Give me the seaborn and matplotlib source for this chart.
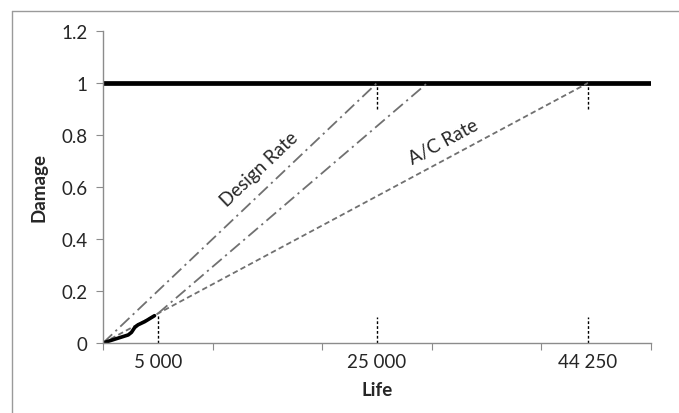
import numpy as np
import pandas as pd
import matplotlib
matplotlib.use("Agg")
import matplotlib.pyplot as plt
import seaborn as sns
from matplotlib.lines import Line2D

# values
life_labels = ["5 000", "25 000", "44 250"]
life_marks = [5000, 25000, 44250]
damage_ticks = [0, 0.2, 0.4, 0.6, 0.8, 1.0, 1.2]

current_life = 5000
current_damage = 0.113
design_life = 25000
remaining_life = 29600
ac_life = 44250
limit_damage = 1.0

flown_life = [0, 1100, 2300, 2600, 2900, 3200, 3800, 4700]
flown_damage = [0, 0.015, 0.031, 0.041, 0.060, 0.070, 0.082, 0.105]

sns.set_style("white")
plt.rcParams['font.family'] = ['Lato', 'DejaVu Sans']

fig = plt.figure(figsize=(6.79, 4.14), dpi=100)
ax = fig.add_axes([103 / 679, 1 - 344 / 414, 548 / 679, 312 / 414])

grey = "#707070"

# damage limit
sns.lineplot(x=[0, 50000], y=[limit_damage, limit_damage], ax=ax, color="black", lw=3.4)

# design rate
sns.lineplot(x=[0, design_life], y=[0, limit_damage], ax=ax, color=grey, lw=1.3,
             linestyle=(0, (7, 2.5, 1.2, 2.5)))
# rate needed from the current point
sns.lineplot(x=[current_life, remaining_life], y=[current_damage, limit_damage], ax=ax,
             color=grey, lw=1.3, linestyle=(0, (7, 2.5, 1.2, 2.5)))
# A/C rate
sns.lineplot(x=[0, ac_life], y=[0, limit_damage], ax=ax, color=grey, lw=1.3,
             linestyle=(0, (3, 1.8)))

# damage accumulated so far
sns.lineplot(x=flown_life, y=flown_damage, ax=ax, color="black", lw=2.6, sort=False,
             estimator=None)

# guide marks
ax.vlines(current_life, 0, current_damage, colors="black", lw=1, linestyles=(0, (2, 1.5)))
for x in [design_life, ac_life]:
    ax.vlines(x, 0, 0.1, colors="black", lw=1, linestyles=(0, (2, 1.5)))
    ax.vlines(x, 0.9, 1.0, colors="black", lw=1, linestyles=(0, (2, 1.5)))

ax.set_xlim(0, 50000)
ax.set_ylim(0, 1.2)

ax.set_xticks(range(0, 50001, 10000))
ax.set_xticklabels([])
ax.set_xticks(life_marks, minor=True)
ax.set_xticklabels(life_labels, minor=True, fontsize=13.5)
ax.tick_params(axis="x", which="major", direction="out", length=5, color="#8c8c8c",
               bottom=True)
ax.tick_params(axis="x", which="minor", length=0, pad=7, bottom=True)

ax.set_yticks(damage_ticks)
ax.set_yticklabels([f"{v:g}" for v in damage_ticks], fontsize=13.5)
ax.tick_params(axis="y", direction="out", length=5, color="#8c8c8c", left=True, pad=6)

for side in ["top", "right"]:
    ax.spines[side].set_visible(False)
for side in ["left", "bottom"]:
    ax.spines[side].set_color("#8c8c8c")
    ax.spines[side].set_linewidth(1)

ax.set_xlabel("Life", fontsize=13.5, fontweight="bold", labelpad=8)
ax.set_ylabel("Damage", fontsize=13.5, fontweight="bold", labelpad=10)

# labels along the rate lines, rotated to match them on screen
def screen_angle(x0, y0, x1, y1):
    p0 = ax.transData.transform((x0, y0))
    p1 = ax.transData.transform((x1, y1))
    return np.degrees(np.arctan2(p1[1] - p0[1], p1[0] - p0[0]))

ax.text(14300, 0.67, "Design Rate", fontsize=13.5, ha="center", va="center",
        rotation=screen_angle(0, 0, design_life, limit_damage))
ax.text(31100, 0.775, "A/C Rate", fontsize=13.5, ha="center", va="center",
        rotation=screen_angle(0, 0, ac_life, limit_damage))

# outer frame of the chart area
fx = 12 / 679
fy = 1 - 12 / 414
fig.add_artist(Line2D([fx, fx], [0, fy], color="#9a9a9a", lw=1))
fig.add_artist(Line2D([fx, 1], [fy, fy], color="#9a9a9a", lw=1))

fig.savefig("out.png", dpi=100)
